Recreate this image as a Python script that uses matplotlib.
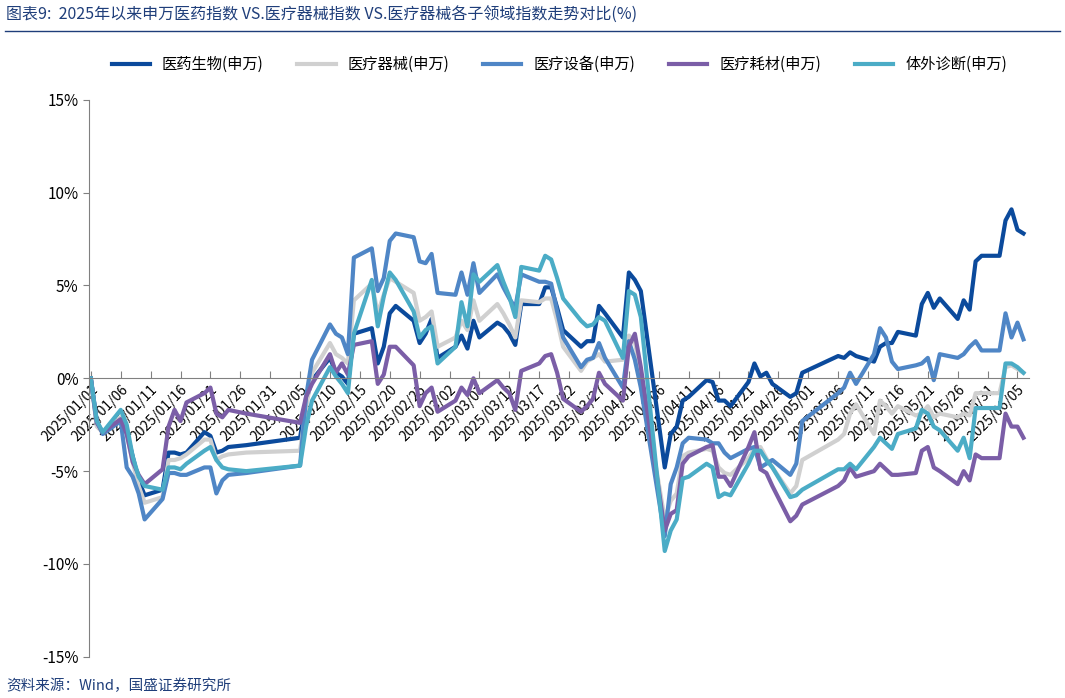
import matplotlib
matplotlib.use("Agg")
import matplotlib.pyplot as plt
import datetime as dt

plt.rcParams['font.family'] = ['Noto Sans CJK SC', 'DejaVu Sans']

dates = ["2025-01-01","2025-01-02","2025-01-03","2025-01-06","2025-01-07","2025-01-08","2025-01-09","2025-01-10",
 "2025-01-13","2025-01-14","2025-01-15","2025-01-16","2025-01-17","2025-01-20","2025-01-21","2025-01-22","2025-01-23","2025-01-24","2025-01-27",
 "2025-02-05","2025-02-06","2025-02-07","2025-02-10","2025-02-11","2025-02-12","2025-02-13","2025-02-14","2025-02-17","2025-02-18","2025-02-19","2025-02-20","2025-02-21",
 "2025-02-24","2025-02-25","2025-02-26","2025-02-27","2025-02-28","2025-03-03","2025-03-04","2025-03-05","2025-03-06","2025-03-07",
 "2025-03-10","2025-03-11","2025-03-12","2025-03-13","2025-03-14","2025-03-17","2025-03-18","2025-03-19","2025-03-20","2025-03-21",
 "2025-03-24","2025-03-25","2025-03-26","2025-03-27","2025-03-28","2025-03-31","2025-04-01","2025-04-02","2025-04-03",
 "2025-04-07","2025-04-08","2025-04-09","2025-04-10","2025-04-11","2025-04-14","2025-04-15","2025-04-16","2025-04-17","2025-04-18",
 "2025-04-21","2025-04-22","2025-04-23","2025-04-24","2025-04-25","2025-04-28","2025-04-29","2025-04-30",
 "2025-05-06","2025-05-07","2025-05-08","2025-05-09","2025-05-12","2025-05-13","2025-05-14","2025-05-15","2025-05-16",
 "2025-05-19","2025-05-20","2025-05-21","2025-05-22","2025-05-23","2025-05-26","2025-05-27","2025-05-28","2025-05-29","2025-05-30",
 "2025-06-02","2025-06-03","2025-06-04","2025-06-05","2025-06-06"]

yiyao = [0,-2.5,-2.9,-2.3,-2.9,-4.2,-5.5,-6.3,-6.0,-4.0,-4.0,-4.1,-4.0,-2.9,-3.1,-4.0,-3.9,-3.7,-3.6,
 -3.2,-1.2,-0.1,1.1,0.3,0.1,-0.3,2.4,2.7,0.8,1.7,3.5,3.9,
 3.1,1.9,2.4,3.2,1.1,1.7,2.3,1.6,3.1,2.2,
 3.0,2.8,2.4,1.8,4.0,4.0,4.9,4.9,3.8,2.6,
 1.7,2.0,2.0,3.9,3.5,2.2,5.7,5.3,4.7,
 -4.8,-3.0,-2.6,-1.2,-1.0,-0.1,-0.2,-1.2,-1.2,-1.5,
 -0.2,0.8,0.1,0.3,-0.3,-1.0,-0.8,0.3,
 1.2,1.1,1.4,1.2,0.9,1.7,1.9,1.9,2.5,
 2.3,4.0,4.6,3.8,4.3,3.2,4.2,3.7,6.3,6.6,
 6.6,8.5,9.1,8.0,7.8]
qixie = [0,-2.6,-2.9,-2.1,-3.0,-4.5,-5.8,-6.7,-6.4,-4.4,-4.4,-4.3,-4.1,-3.3,-3.3,-4.4,-4.2,-4.1,-4.0,
 -3.9,-1.6,0.3,1.9,1.3,1.1,0.8,4.2,5.1,3.5,4.5,5.4,5.2,
 4.6,3.1,3.3,3.6,1.7,2.2,3.1,2.6,4.2,3.1,
 4.0,3.5,2.9,2.2,4.2,4.1,4.3,4.3,3.1,1.7,
 0.4,0.9,1.1,1.3,0.9,1.0,2.3,2.0,0.1,
 -7.6,-6.6,-6.2,-4.2,-4.0,-3.8,-3.9,-4.8,-5.1,-5.2,
 -4.3,-3.8,-3.7,-4.3,-4.8,-6.2,-5.8,-4.4,
 -3.3,-3.0,-1.9,-1.4,-3.0,-1.2,-1.5,-1.9,-1.5,
 -2.0,-1.9,-1.5,-2.1,-1.9,-2.1,-1.9,-2.0,-0.8,-0.8,
 -0.8,0.6,0.7,0.5,0.3]
shebei = [0,-2.3,-3.0,-2.3,-4.8,-5.3,-6.2,-7.6,-6.5,-5.1,-5.1,-5.2,-5.2,-4.8,-4.8,-6.2,-5.5,-5.2,-5.1,
 -4.7,-1.0,1.0,2.9,2.4,2.2,1.3,6.5,7.0,4.7,5.4,7.4,7.8,
 7.6,6.3,6.2,6.7,4.6,4.5,5.7,4.5,6.2,4.6,
 5.6,4.9,4.3,3.8,5.6,5.2,5.2,5.1,3.6,2.2,
 0.6,1.0,1.1,1.9,1.1,-0.5,2.0,1.0,-0.5,
 -8.5,-5.7,-4.8,-3.5,-3.2,-3.3,-3.5,-3.5,-4.0,-4.3,
 -3.8,-3.7,-4.8,-4.6,-4.4,-5.2,-4.6,-2.3,
 -0.8,-0.5,0.3,-0.3,1.3,2.7,2.2,0.9,0.5,
 0.7,0.8,1.1,-0.1,1.3,1.1,1.3,1.7,2.0,1.5,
 1.5,3.5,2.2,3.0,2.1]
haocai = [0,-2.4,-2.9,-2.2,-3.0,-4.5,-5.2,-5.7,-4.9,-2.6,-1.7,-2.3,-1.3,-0.8,-0.5,-1.9,-2.1,-1.7,-1.9,
 -2.4,-1.0,-0.3,1.3,0.3,0.8,0.2,1.8,2.0,-0.3,0.2,1.7,1.7,
 0.7,-1.5,-0.8,-0.5,-1.8,-1.2,-0.5,-0.9,0.0,-0.8,
 -0.1,-0.5,-0.8,-1.7,0.4,0.8,1.2,1.3,0.3,-1.1,
 -1.8,-1.5,-1.1,0.3,-0.3,-1.2,1.7,2.4,0.6,
 -8.2,-7.3,-7.1,-4.6,-4.2,-3.7,-3.6,-5.3,-5.3,-5.8,
 -3.7,-2.9,-4.9,-5.1,-5.8,-7.7,-7.4,-6.8,
 -5.8,-5.5,-4.8,-5.3,-5.0,-4.6,-4.9,-5.2,-5.2,
 -5.1,-3.9,-3.7,-4.8,-5.0,-5.7,-5.0,-5.5,-4.1,-4.3,
 -4.3,-1.9,-2.6,-2.6,-3.2]
zhenduan = [0,-2.3,-2.9,-1.7,-2.5,-4.2,-5.3,-5.8,-6.0,-4.8,-4.8,-4.9,-4.6,-3.9,-3.7,-4.4,-4.8,-4.9,-5.0,
 -4.7,-2.6,-1.2,0.6,0.1,-0.3,-0.8,2.4,5.3,2.8,4.4,5.7,5.3,
 3.6,2.2,2.6,2.8,0.8,1.7,4.1,2.8,5.6,5.2,
 6.1,5.2,4.4,3.3,6.0,5.8,6.6,6.4,5.4,4.3,
 3.1,2.8,2.9,3.3,3.1,1.1,4.7,4.5,3.3,
 -9.3,-8.2,-7.6,-5.4,-5.3,-4.6,-4.8,-6.4,-6.2,-6.3,
 -4.6,-3.9,-3.9,-4.4,-4.8,-6.4,-6.3,-6.0,
 -4.9,-4.9,-4.6,-4.9,-3.7,-3.2,-3.5,-3.8,-3.0,
 -2.7,-1.7,-1.9,-2.6,-2.8,-3.9,-3.2,-4.3,-1.6,-1.6,
 -1.6,0.8,0.8,0.6,0.3]

series = [("医药生物(申万)", yiyao, "#0B4A9C"),
          ("医疗器械(申万)", qixie, "#D0D0D0"),
          ("医疗设备(申万)", shebei, "#4F86C6"),
          ("医疗耗材(申万)", haocai, "#7B5EA7"),
          ("体外诊断(申万)", zhenduan, "#4BACC6")]

x = [dt.datetime.strptime(d, "%Y-%m-%d") for d in dates]

fig = plt.figure(figsize=(10.65, 6.98), dpi=100)
ax = fig.add_axes([0.0836, 0.059, 0.883, 0.798])
for name, vals, c in series:
    ax.plot(x, vals, color=c, lw=3, label=name)

start = dt.datetime(2025, 1, 1)
ax.set_xlim(start - dt.timedelta(days=0.3), start + dt.timedelta(days=157))
ax.set_ylim(-15, 15)
yt = [-15, -10, -5, 0, 5, 10, 15]
ax.set_yticks(yt)
ax.set_yticklabels([f"{v}%" for v in yt], fontsize=11)
ticks = [start + dt.timedelta(days=5 * i) for i in range(32)]
ax.set_xticks(ticks)
ax.set_xticklabels([t.strftime("%Y/%m/%d") for t in ticks], fontsize=11)
ax.spines['bottom'].set_position(('data', 0))
ax.spines['bottom'].set_color('#808080')
ax.spines['left'].set_color('#808080')
ax.spines['top'].set_visible(False)
ax.spines['right'].set_visible(False)
ax.tick_params(axis='x', direction='in', length=5, color='#808080', pad=3)
ax.tick_params(axis='y', direction='out', length=4, color='#808080')
for lab in ax.get_xticklabels():
    lab.set_rotation(45)
    lab.set_ha('right')
    lab.set_va('top')
    lab.set_rotation_mode('anchor')

ax.legend(loc='center', bbox_to_anchor=(0.5, 1.063), ncol=5, frameon=False,
          fontsize=11, handlelength=2.5, columnspacing=2.2)

fig.text(0.006, 0.978, "图表9:  2025年以来申万医药指数 VS.医疗器械指数 VS.医疗器械各子领域指数走势对比(%)",
         color="#1F3E7A", fontsize=11.5, style='italic', va='center')
fig.add_artist(plt.Line2D([0.005, 0.995], [0.955, 0.955], color="#1F3E7A", lw=1))
fig.text(0.006, 0.018, "资料来源：Wind，国盛证券研究所", color="#1F3E7A", fontsize=10.5,
         style='italic', va='center')

fig.savefig("out.png", dpi=100)
